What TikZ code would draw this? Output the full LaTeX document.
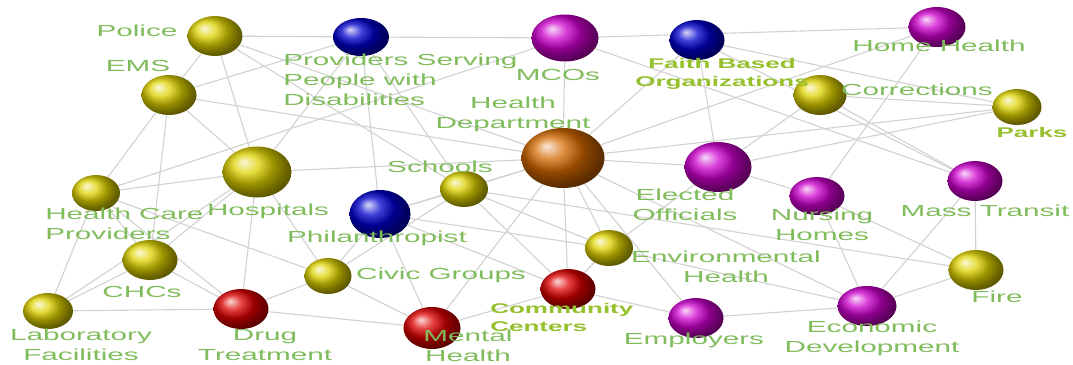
\documentclass[tikz,border=0pt]{standalone}
\usepackage{fontspec}
\setmainfont{Liberation Sans}
\newfontfamily\lblfont[FakeStretch=1.85]{Liberation Sans}
\usetikzlibrary{shapes.geometric, backgrounds}

\definecolor{lblgreen}{RGB}{128,188,92}
\definecolor{boldgreen}{RGB}{150,192,45}
\definecolor{edgegray}{RGB}{210,210,210}
\definecolor{byellow}{RGB}{222,210,0}
\definecolor{borange}{RGB}{212,104,0}
\definecolor{bmagenta}{RGB}{205,0,205}
\definecolor{bblue}{RGB}{0,0,205}
\definecolor{bred}{RGB}{222,0,0}

\begin{document}
\begin{tikzpicture}[
  x=0.025cm, y=-0.025cm,
  ball/.style={ellipse, inner sep=0pt, shade, ball color=#1},
  sz/.style 2 args={minimum width=#1*0.025cm, minimum height=#2*0.025cm},
  yel/.style={ball=byellow, sz={55}{40}},
  mag/.style={ball=bmagenta, sz={55}{40}},
  blu/.style={ball=bblue, sz={55}{40}},
  rd/.style={ball=bred, sz={55}{40}},
  lbl/.style={text=lblgreen, font=\lblfont\fontsize{11.4}{13.9}\selectfont, inner sep=0pt, anchor=base, align=center},
  blbl/.style={lbl, text=boldgreen, font=\lblfont\bfseries\fontsize{10}{12.1}\selectfont},
  edge/.style={draw=edgegray, line width=0.8pt},
]
\useasboundingbox (0,0) rectangle (1073,364);

% balls
\node[yel] (police) at (215,36) {};
\node[yel] (ems) at (169,95) {};
\node[blu, sz={56}{38}] (prov) at (361,37) {};
\node[mag, sz={67}{47}] (mcos) at (565,38) {};
\node[blu] (faith) at (697,40) {};
\node[mag, sz={57}{40}] (home) at (937,27) {};
\node[yel, sz={53}{40}] (corr) at (820,95) {};
\node[yel, sz={49}{36}] (parks) at (1017,107) {};
\node[ball=borange, sz={83}{60}] (hd) at (563,158) {};
\node[mag, sz={67}{50}] (elected) at (718,167) {};
\node[mag, sz={55}{38}] (nursing) at (817,196) {};
\node[mag] (mass) at (975,181) {};
\node[yel, sz={55}{40}] (fire) at (976,270) {};
\node[mag, sz={59}{40}] (econ) at (867,306) {};
\node[mag] (employers) at (696,318) {};
\node[yel, sz={48}{36}] (env) at (609,248) {};
\node[rd] (community) at (568,289) {};
\node[rd, sz={57}{42}] (mental) at (432,328) {};
\node[yel, sz={47}{36}] (civic) at (328,276) {};
\node[blu, sz={61}{48}] (phil) at (380,214) {};
\node[yel, sz={48}{36}] (schools) at (464,189) {};
\node[yel, sz={69}{51}] (hosp) at (257,172) {};
\node[yel, sz={48}{36}] (hcp) at (96,193) {};
\node[yel, sz={55}{40}] (chcs) at (150,260) {};
\node[yel, sz={50}{36}] (lab) at (48,311) {};
\node[rd] (drug) at (241,309) {};

% labels (multi-line: base = last line)
\node[lbl] (l-police) at (137,36) {Police};
\node[lbl] (l-ems) at (138,71) {EMS};
\node[lbl, anchor=base west, align=left] (l-prov) at (283,105) {Providers Serving\\People with\\Disabilities};
\node[lbl] (l-mcos) at (558,80) {MCOs};
\node[lbl] (l-hd) at (513,128) {Health\\Department};
\node[blbl] (l-faith) at (722,86) {Faith Based\\Organizations};
\node[lbl] (l-home) at (939,51) {Home Health};
\node[lbl] (l-corr) at (917,95) {Corrections};
\node[blbl] (l-parks) at (1032,137) {Parks};
\node[lbl] (l-schools) at (440,172) {Schools};
\node[lbl] (l-elected) at (685,220) {Elected\\Officials};
\node[lbl] (l-nursing) at (822,240) {Nursing\\Homes};
\node[lbl] (l-mass) at (985,216) {Mass Transit};
\node[lbl, anchor=base west, align=left] (l-hcp) at (45,239) {Health Care\\Providers};
\node[lbl] (l-hosp) at (268,215) {Hospitals};
\node[lbl] (l-phil) at (377,242) {Philanthropist};
\node[lbl] (l-chcs) at (142,297) {CHCs};
\node[lbl] (l-civic) at (441,279) {Civic Groups};
\node[lbl] (l-env) at (726,282) {Environmental\\Health};
\node[lbl] (l-fire) at (997,302) {Fire};
\node[lbl] (l-lab) at (81,360) {Laboratory\\Facilities};
\node[lbl] (l-drug) at (265,360) {Drug\\Treatment};
\node[lbl] (l-mental) at (468,361) {Mental\\Health};
\node[blbl, anchor=base west, align=left] (l-community) at (490,331) {Community\\Centers};
\node[lbl] (l-employers) at (694,344) {Employers};
\node[lbl] (l-econ) at (872,352) {Economic\\Development};

% links
\begin{scope}[on background layer]
\foreach \a/\b in {police/prov, police/ems, police/hosp, police/schools, police/hd,
  ems/prov, ems/hcp, ems/chcs, ems/hosp, ems/hd,
  prov/mcos, prov/phil, prov/schools, prov/hosp,
  hcp/mcos, hcp/chcs, hcp/lab, hcp/drug, hcp/hosp, hcp/civic,
  mcos/home, mcos/hd, mcos/mass,
  faith/parks, faith/mass, faith/elected, faith/hd,
  home/nursing, home/hd,
  corr/parks, corr/mass, corr/elected,
  hd/schools, hd/env, hd/community, hd/employers, hd/mental, hd/elected, hd/econ, hd/parks, hd/phil, hd/hosp,
  elected/nursing, elected/parks, elected/env,
  nursing/fire, nursing/econ, mass/fire, mass/econ, fire/econ, fire/schools,
  econ/employers, econ/env, employers/community,
  env/community, env/schools, env/phil,
  community/mental, community/schools, community/phil,
  mental/civic, mental/phil, mental/drug,
  civic/phil, civic/drug, civic/schools, civic/hosp, phil/schools,
  hosp/chcs, hosp/drug, hosp/lab, chcs/lab, chcs/drug, lab/drug}
  \draw[edge] (\a) -- (\b);
\end{scope}

\end{tikzpicture}
\end{document}
